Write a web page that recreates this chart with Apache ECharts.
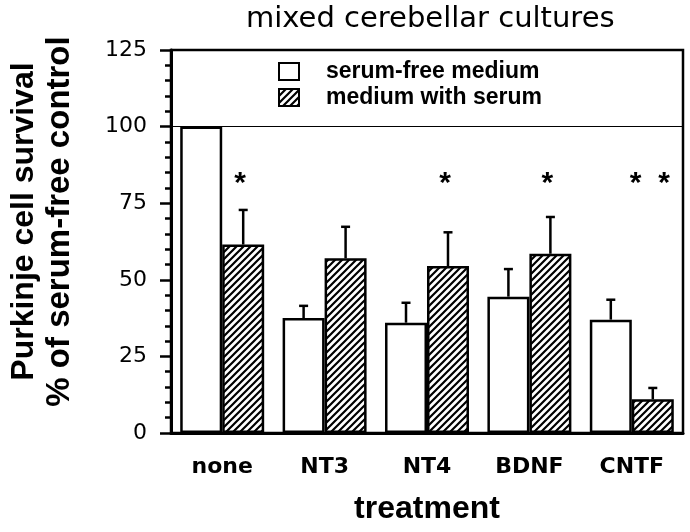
<!DOCTYPE html>
<html>
<head>
<meta charset="utf-8">
<script src="https://cdn.jsdelivr.net/npm/echarts@6/dist/echarts.min.js"></script>
<style>html,body{margin:0;padding:0;background:#fff;}#c{width:690px;height:532px;}</style>
</head>
<body>
<div id="c"></div>
<script>
const categories = ['none', 'NT3', 'NT4', 'BDNF', 'CNTF'];
const serumFree = [100, 37.5, 36, 44.5, 37];
const serumFreeErr = [0, 4, 6.5, 9, 6.5];
const withSerum = [61.5, 57, 54.5, 58.5, 11];
const withSerumErr = [11.3, 10.3, 11, 12, 3.7];
const starLabels = ['*', '', '*', '*', '*  *'];
const starLevel = 83;
const yMin = 0, yMax = 125, yStep = 25;
const refLine = 100;

function makeHatch() {
  const n = 7;
  const c = document.createElement('canvas');
  c.width = n; c.height = n;
  const g = c.getContext('2d');
  g.fillStyle = '#fff'; g.fillRect(0, 0, n, n);
  g.strokeStyle = '#000'; g.lineWidth = 2.2;
  g.beginPath();
  [-n, 0, n].forEach(k => { g.moveTo(k - 1, n + 1); g.lineTo(k + n + 1, -1); });
  g.stroke();
  return c;
}
const hatch = { image: makeHatch(), repeat: 'repeat' };
const BW = 0.41;

function errRender(params, api) {
  const i = api.value(0), v = api.value(1), e = api.value(2), side = api.value(3);
  if (!e) return null;
  const p0 = api.coord([i, v]);
  const p1 = api.coord([i, v + e]);
  const band = api.size([1, 0])[0];
  const x = p0[0] + side * band * BW / 2;
  const st = { stroke: '#000', lineWidth: 2.5 };
  return { type: 'group', children: [
    { type: 'line', shape: { x1: x, y1: p0[1], x2: x, y2: p1[1] }, style: st },
    { type: 'line', shape: { x1: x - 4.5, y1: p1[1], x2: x + 4.5, y2: p1[1] }, style: st }
  ]};
}
function starRender(params, api) {
  const i = api.value(0);
  const t = starLabels[i];
  if (!t) return null;
  const p = api.coord([i, starLevel]);
  const band = api.size([1, 0])[0];
  return { type: 'text', style: {
    text: t, x: p[0] + band * BW / 2 - 3, y: p[1] + 5,
    align: 'center', verticalAlign: 'middle',
    fontFamily: 'Liberation Sans', fontWeight: 'bold', fontSize: 30, fill: '#000'
  }};
}

const chart = echarts.init(document.getElementById('c'), null, { renderer: 'canvas' });
chart.setOption({
  animation: false,
  backgroundColor: '#fff',
  title: {
    text: 'mixed cerebellar cultures', left: 246, top: 5, padding: 0,
    textStyle: { fontFamily: 'DejaVu Sans', fontWeight: 'normal', fontSize: 29, color: '#000' }
  },
  legend: {
    orient: 'vertical', left: 273, top: 55, itemWidth: 20, itemHeight: 17, itemGap: 3,
    icon: 'rect', selectedMode: false,
    itemStyle: { borderColor: '#000', borderWidth: 2 },
    textStyle: { fontFamily: 'Liberation Sans', fontWeight: 'bold', fontSize: 23, color: '#000', padding: [0, 0, 0, 22] },
    data: ['serum-free medium', 'medium with serum']
  },
  grid: { left: 171, right: 7, top: 50, bottom: 99, show: true, borderColor: '#000', borderWidth: 2.5, outerBoundsMode: 'none', containLabel: false },
  xAxis: {
    type: 'category', data: categories,
    axisLine: { lineStyle: { color: '#000', width: 3 } },
    axisTick: { show: false },
    axisLabel: { margin: 23, fontFamily: 'DejaVu Sans', fontWeight: 'bold', fontSize: 22, color: '#000' },
    name: 'treatment', nameLocation: 'middle', nameGap: 60,
    nameTextStyle: { fontFamily: 'Liberation Sans', fontWeight: 'bold', fontSize: 32, color: '#000' }
  },
  yAxis: {
    type: 'value', min: yMin, max: yMax, interval: yStep,
    axisLine: { show: true, lineStyle: { color: '#000', width: 3 } },
    axisTick: { show: true, length: 11, lineStyle: { color: '#000', width: 2.5 } },
    minorTick: { show: true, splitNumber: 5, length: 6, lineStyle: { color: '#000', width: 2.5 } },
    splitLine: { show: false },
    axisLabel: { margin: 24, fontFamily: 'DejaVu Sans', fontSize: 22, color: '#000' },
    name: '{a|Purkinje cell survival}\n{b|% of serum-free control}', nameLocation: 'middle', nameGap: 94, nameRotate: 90,
    nameTextStyle: { fontFamily: 'Liberation Sans', fontWeight: 'bold', fontSize: 32, lineHeight: 35, color: '#000', padding: [0, 0, 0, 40],
      rich: {
        a: { fontFamily: 'Liberation Sans', fontWeight: 'bold', fontSize: 32, lineHeight: 35, color: '#000' },
        b: { fontFamily: 'Liberation Sans', fontWeight: 'bold', fontSize: 33, lineHeight: 35, color: '#000' }
      } }
  },
  series: [
    {
      name: 'serum-free medium', type: 'bar', data: serumFree,
      barWidth: (BW * 100) + '%', barGap: '0%',
      itemStyle: { color: '#fff', borderColor: '#000', borderWidth: 2.5 },
      markLine: { silent: true, symbol: 'none', label: { show: false },
        lineStyle: { color: '#000', width: 1.2, type: 'solid' }, data: [{ yAxis: refLine }] }
    },
    {
      name: 'medium with serum', type: 'bar', data: withSerum,
      barWidth: (BW * 100) + '%', barGap: '0%',
      itemStyle: { color: hatch, borderColor: '#000', borderWidth: 2.5 }
    },
    {
      type: 'custom', renderItem: errRender, z: 5,
      data: categories.map((c, i) => [i, serumFree[i], serumFreeErr[i], -1])
    },
    {
      type: 'custom', renderItem: errRender, z: 5,
      data: categories.map((c, i) => [i, withSerum[i], withSerumErr[i], 1])
    },
    {
      type: 'custom', renderItem: starRender, z: 5,
      data: categories.map((c, i) => [i, starLevel])
    }
  ]
});
</script>
</body>
</html>
